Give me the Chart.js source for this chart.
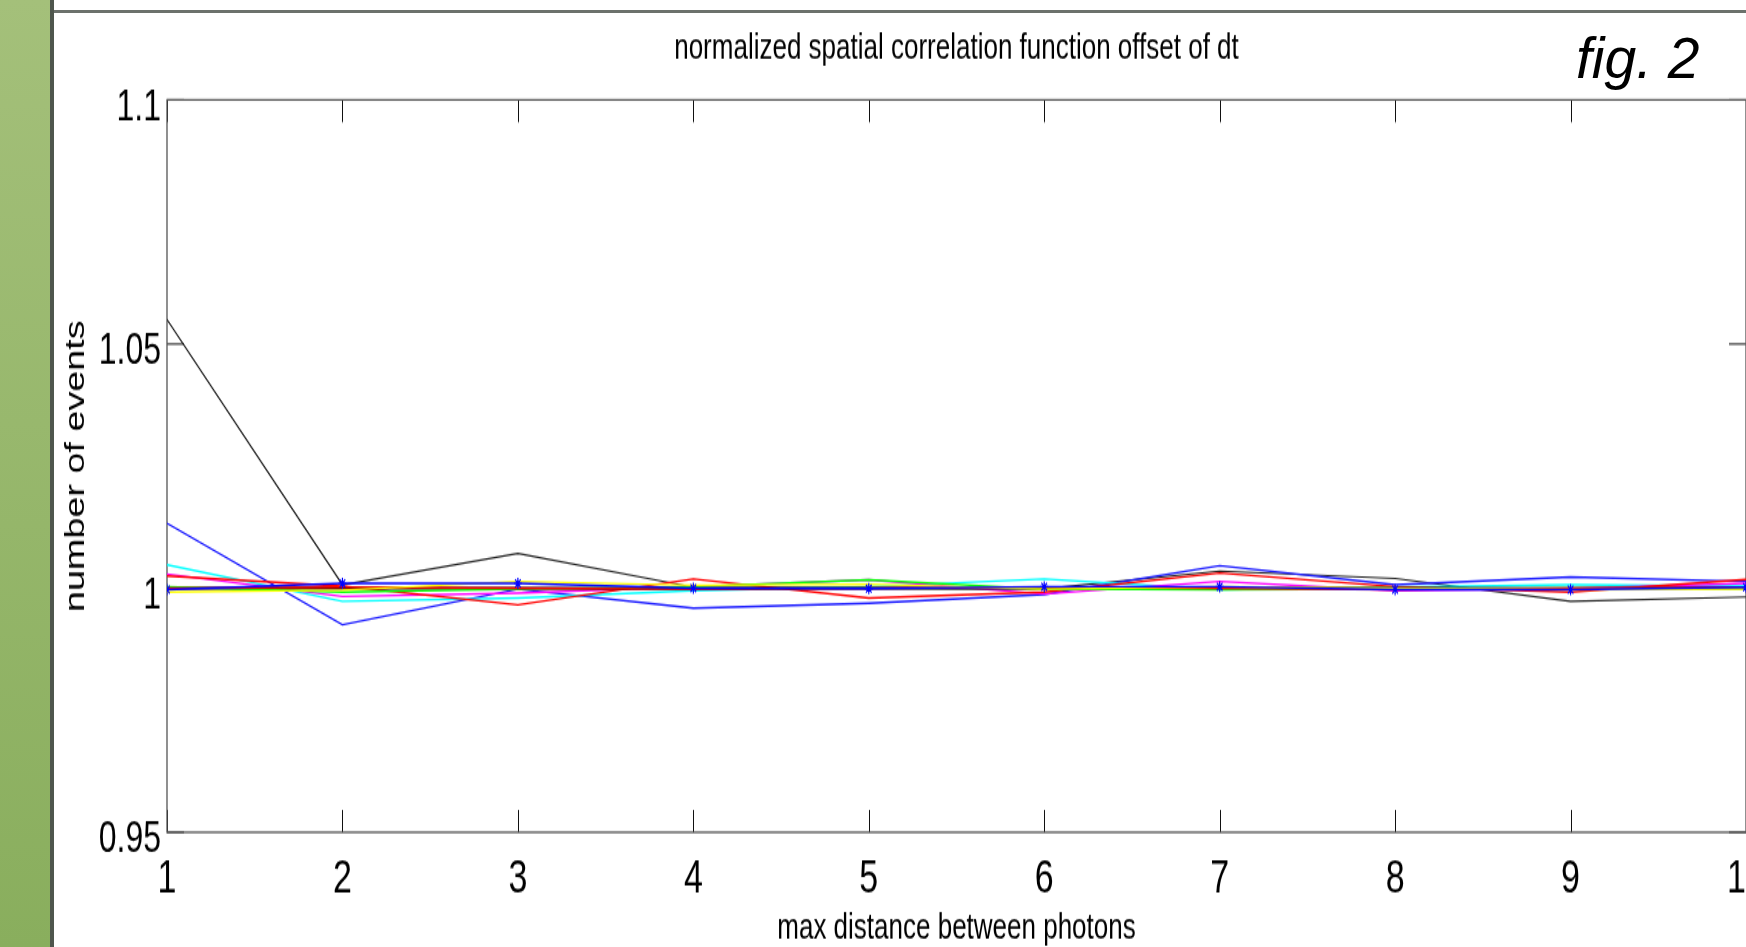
<!DOCTYPE html>
<html>
<head>
<meta charset="utf-8">
<script src="https://cdn.jsdelivr.net/npm/chart.js@4.4.0/dist/chart.umd.min.js"></script>
<style>
  html, body { margin: 0; padding: 0; background: #fff; overflow: hidden; width: 1746px; height: 947px; }
  #bar { position: absolute; left: 0; top: 0; width: 50px; height: 947px; background: linear-gradient(#a4c07a, #89ae5d); }
  #barEdge { position: absolute; left: 50px; top: 0; width: 4px; height: 947px; background: #4f564d; }
  #topLine { position: absolute; left: 54px; top: 10px; width: 1692px; height: 3px; background: #6c716c; }
  #fig { position: absolute; left: 1576px; top: 30px; font: italic 57px 'Liberation Sans', Arial, sans-serif; line-height: 1; color: #000; }
  /* the matlab figure was stretched vertically on the slide */
  #wrap { position: absolute; left: 54px; top: 0; width: 1760px; height: 677px; transform: scaleY(1.3988); transform-origin: 0 0; }
</style>
</head>
<body>
<div id="wrap"><canvas id="c" width="1760" height="677"></canvas></div>
<div id="bar"></div>
<div id="barEdge"></div>
<div id="topLine"></div>
<div id="fig">fig. 2</div>
<script>
const xValues = [1, 2, 3, 4, 5, 6, 7, 8, 9, 10];
const xTicks = [1, 2, 3, 4, 5, 6, 7, 8, 9, 10];
const yTicks = [0.95, 1, 1.05, 1.1];
const yTickLabels = ['0.95', '1', '1.05', '1.1'];

// values
const blackThin = [1.055, 1.0007, 1.0071, 1.0002, 1.0, 0.9999, 1.0035, 1.002, 0.9973, 0.9982];
const blueBig   = [1.0133, 0.9925, 0.9998, 0.9959, 0.9969, 0.9987, 1.0046, 1.0007, 1.0023, 1.0014];
const cyan      = [1.0048, 0.9973, 0.998, 0.9995, 1.0003, 1.0019, 0.9997, 1.0002, 1.0007, 1.0004];
const magenta   = [1.0029, 0.9983, 0.999, 1.0003, 1.0017, 0.9988, 1.0014, 0.9995, 0.9999, 1.001];
const red       = [1.0025, 1.0004, 0.9966, 1.0019, 0.998, 0.9992, 1.0031, 1.0003, 0.9992, 1.0018];
const red2      = [1.0, 1.0002, 1.0, 0.9998, 1.0, 1.0002, 1.0, 0.9997, 1.0, 1.0002];
const green     = [1.0003, 0.9992, 0.9998, 1.0003, 1.0017, 0.9998, 0.9997, 0.9998, 1.0, 0.9999];
const yellow    = [0.9992, 0.9996, 1.0014, 1.0006, 1.0008, 0.9998, 1.0003, 1.0, 0.9997, 0.9998];
const blueStars = [0.9997, 1.001, 1.001, 1.0, 0.9999, 1.0003, 1.0003, 0.9997, 0.9997, 1.0002];
const blackThick = [1.0, 1.0, 1.0, 0.9999, 1.0, 1.0, 1.0001, 1.0, 0.9999, 1.0];

function pts(arr) {
  return xValues.map((x, i) => ({ x: x, y: arr[i] }));
}
function line(data, color, width) {
  return { data: pts(data), borderColor: color, backgroundColor: color, borderWidth: width, pointRadius: 0, fill: false, tension: 0 };
}

// first dataset ends up on top
const datasets = [
  Object.assign(line(blueStars, '#0000ff', 1.4), { pointRadius: 4, pointStyle: 'star', pointBorderWidth: 1.2 }),
  line(yellow, '#ffff00', 1.4),
  line(red2, '#ff0000', 1.4),
  line(green, '#00ff00', 1.4),
  line(blackThick, '#000000', 2),
  line(red, '#ff0000', 1.4),
  line(magenta, '#ff00ff', 1.4),
  line(cyan, '#00ffff', 1.4),
  line(blueBig, '#1a1aff', 1.4),
  line(blackThin, '#222222', 1.2)
];

// matlab style box with inward ticks
const frame = {
  id: 'frame',
  beforeDatasetsDraw(chart) {
    const { ctx, chartArea: a, scales: { x, y } } = chart;
    ctx.save();
    ctx.strokeStyle = '#111';
    ctx.lineWidth = 1;
    ctx.beginPath();
    x.ticks.forEach(t => {
      const px = Math.round(x.getPixelForValue(t.value)) + 0.5;
      ctx.moveTo(px, a.bottom); ctx.lineTo(px, a.bottom - 16);
      ctx.moveTo(px, a.top); ctx.lineTo(px, a.top + 16);
    });
    y.ticks.forEach(t => {
      const py = y.getPixelForValue(t.value);
      ctx.moveTo(a.left, py); ctx.lineTo(a.left + 17, py);
      ctx.moveTo(a.right, py); ctx.lineTo(a.right - 17, py);
    });
    ctx.stroke();
    ctx.strokeStyle = '#555';
    ctx.lineWidth = 1.3;
    ctx.strokeRect(a.left, a.top, a.right - a.left, a.bottom - a.top);
    ctx.restore();
  }
};

Chart.defaults.font.family = "'Liberation Sans', Arial, sans-serif";
Chart.defaults.color = '#000';

new Chart(document.getElementById('c'), {
  type: 'line',
  data: { datasets: datasets },
  plugins: [frame],
  options: {
    responsive: false,
    animation: false,
    layout: { padding: { top: 0, left: 0, right: 68, bottom: 0 } },
    plugins: {
      legend: { display: false },
      tooltip: { enabled: false },
      title: {
        display: true,
        text: 'normalized spatial correlation function offset of dt',
        fullSize: false,
        font: { size: 26, weight: 'normal' },
        padding: { top: 19.4, bottom: 20.8 }
      }
    },
    scales: {
      x: {
        type: 'linear',
        min: 1,
        max: 10,
        afterBuildTicks: s => { s.ticks = xTicks.map(v => ({ value: v })); },
        afterFit: s => { s.height = 82; },
        grid: { display: false, drawTicks: false },
        border: { display: false },
        ticks: { font: { size: 34 }, padding: 13, maxRotation: 0, callback: v => String(v) },
        title: { display: true, text: 'max distance between photons', font: { size: 26 }, padding: { top: 0, bottom: -2.5 } }
      },
      y: {
        type: 'linear',
        min: 0.95,
        max: 1.1,
        afterBuildTicks: s => { s.ticks = yTicks.map(v => ({ value: v })); },
        afterFit: s => { s.width = 113; },
        grid: { display: false, drawTicks: false },
        border: { display: false },
        ticks: { font: { size: 32 }, padding: 6, labelOffset: 5.5, callback: v => yTickLabels[yTicks.indexOf(v)] },
        title: { display: true, text: 'number of events', font: { size: 27 }, padding: { top: 6, bottom: 0 } }
      }
    }
  }
});
</script>
</body>
</html>
